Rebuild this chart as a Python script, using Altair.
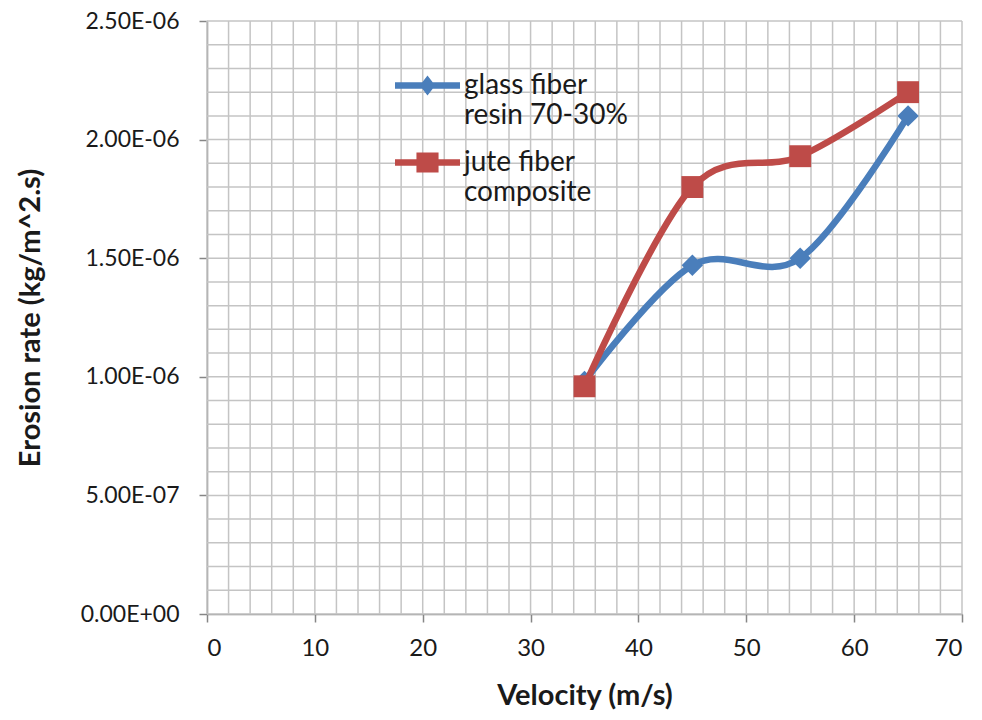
import altair as alt
import pandas as pd

# Erosion rate versus impact velocity for two composite materials
velocity = [35, 45, 55, 65]
glass_rate = [9.8e-7, 1.47e-6, 1.50e-6, 2.10e-6]
jute_rate = [9.6e-7, 1.80e-6, 1.93e-6, 2.20e-6]

series_names = ["glass fiber resin 70-30%", "jute fiber composite"]
series_lines = [["glass fiber", "resin 70-30%"], ["jute fiber", "composite"]]
series_colors = ["#4a7ebb", "#be4b48"]

x_ticks = [0, 10, 20, 30, 40, 50, 60, 70]
y_ticks = [0, 5e-7, 1e-6, 1.5e-6, 2e-6, 2.5e-6]
y_tick_labels = ["0.00E+00", "5.00E-07", "1.00E-06", "1.50E-06", "2.00E-06", "2.50E-06"]
x_grid = list(range(0, 72, 2))
y_grid = [i * 1e-7 for i in range(0, 26)]

FONT = "Lato"
GRID = "#c4c4c4"
AXIS = "#868686"
TEXT = "#1a1a1a"

df = pd.DataFrame({
    "velocity": velocity * 2,
    "rate": glass_rate + jute_rate,
    "series": [series_names[0]] * len(velocity) + [series_names[1]] * len(velocity),
})

x_scale = alt.Scale(domain=[0, 70], nice=False, zero=False)
y_scale = alt.Scale(domain=[0, 2.5e-6], nice=False)

y_label_expr = "[" + ",".join(f"'{s}'" for s in y_tick_labels) + "][round(datum.value / 5e-7)]"

x_axis = alt.Axis(values=x_ticks, grid=False, title="Velocity (m/s)", labelPadding=14,
                  labelFontSize=24, titleY=81, titleBaseline="middle")
y_axis = alt.Axis(values=y_ticks, grid=False, title="Erosion rate (kg/m^2.s)",
                  labelExpr=y_label_expr, labelPadding=20, labelFontSize=23,
                  titleX=-177, titleY=296.5, titleBaseline="middle")

# Fine background grid
vgrid = alt.Chart(pd.DataFrame({"gx": x_grid})).mark_rule(
    color=GRID, strokeWidth=1.5
).encode(x=alt.X("gx:Q", scale=x_scale, axis=x_axis))

hgrid = alt.Chart(pd.DataFrame({"gy": y_grid})).mark_rule(
    color=GRID, strokeWidth=1.5
).encode(y=alt.Y("gy:Q", scale=y_scale, axis=y_axis))

layers = [vgrid, hgrid]

shapes = ["diamond", "square"]
sizes = [460, 480]
for name, color, shape, size in zip(series_names, series_colors, shapes, sizes):
    sub = alt.Chart(df).transform_filter(alt.datum.series == name)
    line = sub.mark_line(color=color, strokeWidth=6.5, interpolate="cardinal").encode(
        x=alt.X("velocity:Q", scale=x_scale),
        y=alt.Y("rate:Q", scale=y_scale),
    )
    pts = sub.mark_point(shape=shape, filled=True, color=color, size=size, opacity=1).encode(
        x=alt.X("velocity:Q", scale=x_scale),
        y=alt.Y("rate:Q", scale=y_scale),
    )
    layers += [line, pts]

# Legend symbols: a thick line stroke with the series marker in the middle
diamond_path = (
    "M-1,-0.1 L-0.16,-0.1 L0,-0.31 L0.16,-0.1 L1,-0.1 "
    "L1,0.1 L0.16,0.1 L0,0.31 L-0.16,0.1 L-1,0.1 Z"
)
square_path = (
    "M-1,-0.1 L-0.34,-0.1 L-0.34,-0.31 L0.34,-0.31 L0.34,-0.1 L1,-0.1 "
    "L1,0.1 L0.34,0.1 L0.34,0.31 L-0.34,0.31 L-0.34,0.1 L-1,0.1 Z"
)

legend_label_expr = (
    f"datum.label == '{series_names[0]}' ? "
    + "[" + ",".join(f"'{s}'" for s in series_lines[0]) + "] : "
    + "[" + ",".join(f"'{s}'" for s in series_lines[1]) + "]"
)

# Legend-only layer: no rows survive the filter, the explicit domain keeps both entries
legend_layer = alt.Chart(df).transform_filter("false").mark_point(filled=True, opacity=1).encode(
    x=alt.X("velocity:Q", scale=x_scale),
    y=alt.Y("rate:Q", scale=y_scale),
    color=alt.Color("series:N", scale=alt.Scale(domain=series_names, range=series_colors),
                    legend=alt.Legend(
                        orient="none", legendX=188, legendY=32, title=None,
                        symbolSize=4225, symbolOpacity=1, symbolStrokeWidth=0,
                        labelExpr=legend_label_expr, labelFont=FONT, labelFontSize=28,
                        labelColor=TEXT, labelOffset=4, labelBaseline="middle",
                        rowPadding=-10, padding=0, labelLimit=400,
                    )),
    shape=alt.Shape("series:N", scale=alt.Scale(domain=series_names,
                                                range=[diamond_path, square_path])),
)
layers.append(legend_layer)

chart = alt.layer(*layers).properties(
    width=755, height=593,
    background="white",
    autosize=alt.AutoSizeParams(type="none"),
    padding={"left": 207, "top": 21, "right": 20, "bottom": 106},
).configure_view(stroke=None).configure_axis(
    domainColor=AXIS, domainWidth=1.5, tickColor=AXIS, tickWidth=1.5, tickSize=8,
    labelFont=FONT, labelColor=TEXT,
    titleFont=FONT, titleFontSize=29, titleFontWeight="bold", titleColor=TEXT,
)

chart.save("out.html", embed_options={"renderer": "svg", "actions": False})
